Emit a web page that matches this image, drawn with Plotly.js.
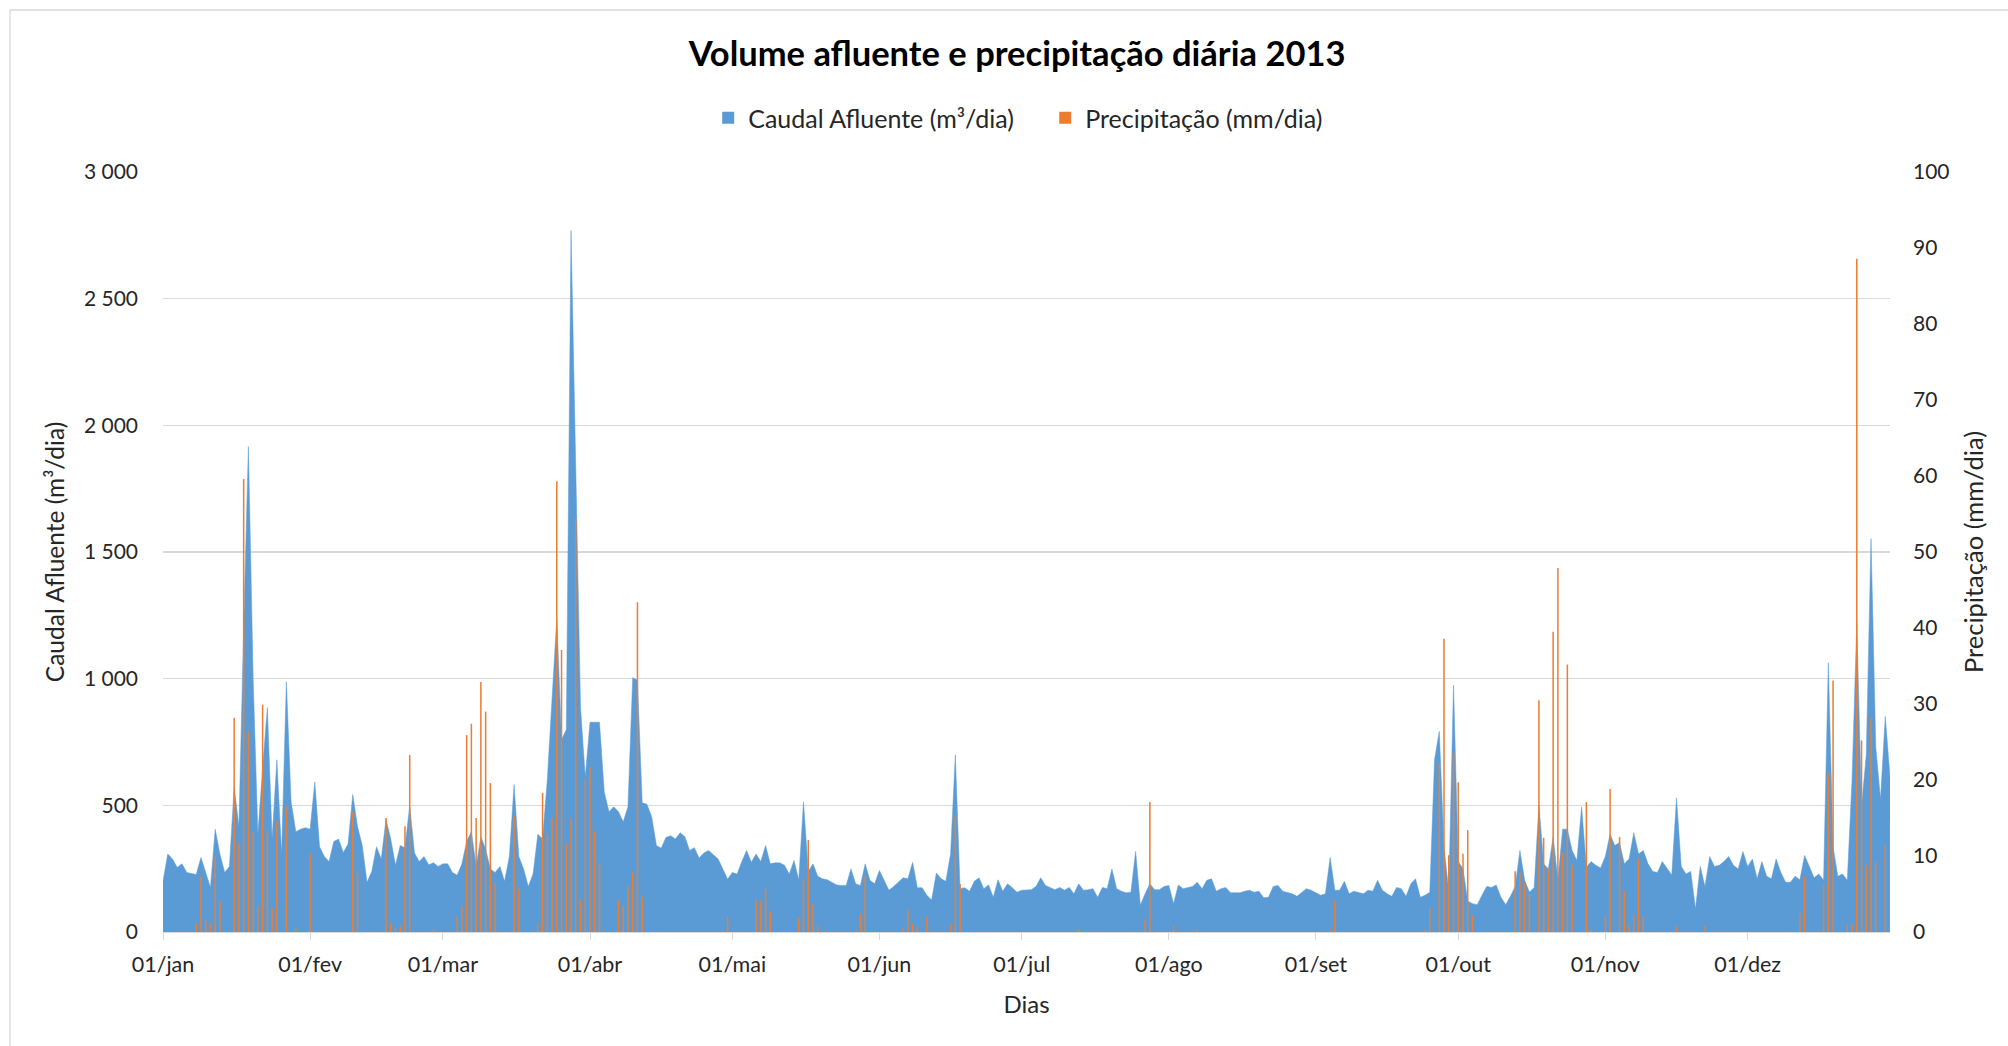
<!DOCTYPE html>
<html>
<head>
<meta charset="utf-8">
<script src="https://cdn.plot.ly/plotly-3.0.1.min.js"></script>
<style>
  html, body { margin: 0; padding: 0; background: #ffffff; }
  #chart { width: 2008px; height: 1046px; }
</style>
</head>
<body>
<div id="chart"></div>
<script>
// ---- Data (2013, one value per day) ----
const year = 2013;
const monthStarts = [0, 31, 59, 90, 120, 151, 181, 212, 243, 273, 304, 334];
const monthLabels = ["01/jan", "01/fev", "01/mar", "01/abr", "01/mai", "01/jun",
                     "01/jul", "01/ago", "01/set", "01/out", "01/nov", "01/dez"];

// Caudal Afluente (m3/dia)
const caudal = [
  // jan
  200,308,288,255,269,235,231,227,294,239,176,406,308,235,259,573,416,1200,1916,1000,386,650,886,367,680,308,988,514,396,406,412,
  // fev
  406,592,337,298,278,357,367,314,347,543,416,341,196,239,337,288,445,367,263,341,333,498,312,278,298,265,273,259,
  // mar
  269,269,235,224,269,357,396,259,376,327,249,235,259,200,298,582,298,249,180,229,386,367,600,900,1240,759,798,2769,1867,886,612,
  // abr
  828,828,828,553,475,494,475,435,494,1004,994,510,504,455,341,331,373,380,367,392,376,322,333,292,312,322,306,288,249,208,
  // mai
  235,229,278,322,275,308,278,341,269,273,273,263,229,282,206,514,239,269,220,210,206,196,186,184,184,249,190,184,269,204,190,
  // jun
  243,205,165,180,196,214,210,275,175,175,145,126,233,210,200,308,700,171,175,161,200,214,171,186,137,206,161,190,175,157,
  // jul
  165,167,167,180,214,184,176,167,176,165,176,151,190,165,167,171,137,176,171,249,171,161,155,157,318,106,151,190,167,167,180,
  // ago
  184,112,186,171,176,180,196,171,204,210,161,171,176,155,155,155,161,165,157,161,135,137,180,184,161,157,151,141,155,171,165,
  // set
  156,145,151,294,165,165,200,151,161,157,151,165,161,204,165,151,141,176,171,141,190,210,137,145,157,680,792,337,161,975,
  // out
  278,250,122,112,108,145,180,176,186,137,108,141,180,322,204,157,176,504,269,249,376,204,406,406,322,282,494,255,278,263,253,
  // nov
  298,386,341,353,269,288,392,308,322,269,239,235,278,249,225,529,259,229,239,92,259,180,298,259,263,278,298,263,249,318,
  // dez
  259,288,210,278,220,210,288,235,196,196,220,206,302,259,214,229,204,1063,337,220,229,204,600,1220,494,700,1553,730,524,851,612
];

// Precipitação (mm/dia)
const precipitacao = [
  // jan
  0,0,0,0,0,0,0,1.1,7.3,1.6,1.1,9.9,4.1,0,0,28.2,11.6,59.6,26.3,13.2,3.4,29.9,13.3,3.1,14.6,0,16.5,0,0.5,0,0,
  // fev
  10.3,0.1,0,0,0,0,0,0,0,15.8,7.8,0,0,0,0,0,15.0,1.2,0.5,0.8,13.9,23.3,0,0,0,0,0.3,0,
  // mar
  0,0,0,2.1,3.4,25.9,27.4,15.0,32.9,29.0,19.6,6.5,0,0,0,15.3,5.7,0,0,0,1.1,18.3,12.9,15.0,59.3,37.1,11.6,15.0,54.4,4.2,20.1,
  // abr
  21.7,13.3,9.0,0.1,0,0,4.2,3.4,6.1,7.8,43.4,4.6,0,0,0,0,0,0,0,0,0,0,0,0,0,0,0,0,0,2.0,
  // mai
  0,0,0,0,0,4.2,4.1,5.7,2.7,0,0,0,0,0,1.8,7.0,12.1,3.7,0.8,0,0,0,0,0,0,0,0.3,2.4,7.3,0,0,
  // jun
  0,0,0,0,0,0.5,2.9,1.1,0.7,0,2.0,0,0,0,0,1.0,15.3,6.3,0,0,0,0,0,0,0,0,0,0,0,0,
  // jul
  0,0,0,0,0,0,0,0,0,0,0,0,0.3,0,0,0,0,0,0,0,0,0,0,0,0,0,1.6,17.1,0,0,0,
  // ago
  0,0.8,0,0,0,0,0.3,0,0,0,0,0,0,0,0,0,0,0,0,0,0,0,0,0,0,0,0,0,0,0,0,
  // set
  0,0,0,0.3,4.2,0,0,0,0,0,0,0,0,0,0,0,0,0,0,0,0,0,0,0.3,3.2,0,22.2,38.6,10.1,23.7,
  // out
  19.7,10.3,13.4,2.2,0,0,0,0,0,0,0,0,8.0,7.8,6.5,5.0,0,30.5,12.4,8.3,39.5,47.9,10.4,35.2,8.8,0,0,17.1,0.3,0,0,
  // nov
  2.1,18.8,0,12.5,5.4,0.8,2.3,9.7,2.1,0,0,0,0,0,0,0.7,0,0,0,0,0,0.8,0,0,0,0,0,0,0,0,
  // dez
  0,0,0,0,0,0,0,0,0,0,0,2.5,7.3,0,0,0,6.2,20.9,33.1,0,0,1.0,1.0,88.6,25.2,8.8,28.2,9.2,0,11.4,14.6
];

const seriesNames = ["Caudal Afluente (m³/dia)", "Precipitação (mm/dia)"];
const seriesColors = ["#5B9BD5", "#ED7D31"];

// day index of each value (0 = 01/jan)
const dias = caudal.map((_, i) => i);

const fontFamily = "Lato, 'Open Sans', sans-serif";
const titleColor = "#000000";
const labelColor = "#262626";
const gridColor = "#D9D9D9";

const traces = [
  {
    type: "scatter",
    mode: "lines",
    name: seriesNames[0],
    x: dias,
    y: caudal,
    fill: "tozeroy",
    fillcolor: seriesColors[0],
    line: { color: seriesColors[0], width: 0.5 },
    yaxis: "y",
    showlegend: false
  },
  // legend swatch only (square marker like the reference)
  {
    type: "bar",
    name: seriesNames[0],
    x: [null],
    y: [null],
    marker: { color: seriesColors[0] },
    yaxis: "y",
    showlegend: true
  },
  {
    type: "bar",
    name: seriesNames[1],
    x: dias,
    y: precipitacao,
    marker: { color: seriesColors[1], line: { width: 0 } },
    width: 0.32,
    yaxis: "y2",
    showlegend: true
  }
];

const layout = {
  width: 2008,
  height: 1046,
  paper_bgcolor: "#ffffff",
  plot_bgcolor: "#ffffff",
  separators: ", ",
  font: { family: fontFamily, color: labelColor, size: 20 },
  margin: { l: 163, r: 118, t: 172, b: 114, pad: 0 },
  title: {
    text: "<b>Volume afluente e precipitação diária 2013</b>",
    font: { family: fontFamily, size: 34.5, color: titleColor },
    x: 0.5065, xanchor: "center",
    y: 1 - 54 / 1046, yanchor: "middle", yref: "container"
  },
  showlegend: true,
  legend: {
    orientation: "h",
    x: 0.3157, xanchor: "left",
    y: 1 - 118 / 1046, yanchor: "middle", yref: "container",
    font: { family: fontFamily, size: 25, color: labelColor },
    itemwidth: 30,
    entrywidth: 292,
    entrywidthmode: "pixels",
    traceorder: "normal"
  },
  barmode: "overlay",
  xaxis: {
    range: [0, 364],
    tickmode: "array",
    tickvals: monthStarts,
    ticktext: monthLabels,
    showgrid: false,
    zeroline: false,
    showline: true,
    linecolor: gridColor,
    linewidth: 1.3,
    ticks: "outside",
    ticklen: 7,
    tickcolor: gridColor,
    ticklabelstandoff: 6,
    tickfont: { family: fontFamily, size: 21.5, color: labelColor },
    title: { text: "Dias", font: { family: fontFamily, size: 24, color: labelColor }, standoff: 20 },
    fixedrange: true
  },
  yaxis: {
    range: [0, 3000],
    tickmode: "array",
    tickvals: [0, 500, 1000, 1500, 2000, 2500, 3000],
    separatethousands: true,
    tickformat: ",d",
    showgrid: true,
    gridcolor: gridColor,
    gridwidth: 1.3,
    zeroline: false,
    showline: false,
    ticks: "",
    ticklabelstandoff: 24,
    tickfont: { family: fontFamily, size: 21, color: labelColor },
    title: { text: "Caudal Afluente (m³/dia)", font: { family: fontFamily, size: 24.5, color: labelColor }, standoff: 12 },
    fixedrange: true
  },
  yaxis2: {
    range: [0, 100],
    overlaying: "y",
    side: "right",
    tickmode: "array",
    tickvals: [0, 10, 20, 30, 40, 50, 60, 70, 80, 90, 100],
    showgrid: false,
    zeroline: false,
    showline: false,
    ticks: "",
    ticklabelstandoff: 22,
    tickfont: { family: fontFamily, size: 21, color: labelColor },
    title: { text: "Precipitação (mm/dia)", font: { family: fontFamily, size: 25.5, color: labelColor }, standoff: 16 },
    fixedrange: true
  },
  shapes: [
    {
      type: "rect", xref: "paper", yref: "paper",
      x0: (10 - 163) / 1727, x1: (2030 - 163) / 1727,
      y0: (932 - 1060) / 760, y1: (932 - 10) / 760,
      line: { color: "#D9D9D9", width: 1.3 },
      fillcolor: "rgba(0,0,0,0)",
      layer: "below"
    }
  ]
};

Plotly.newPlot("chart", traces, layout, { displayModeBar: false, staticPlot: true });
</script>
</body>
</html>
